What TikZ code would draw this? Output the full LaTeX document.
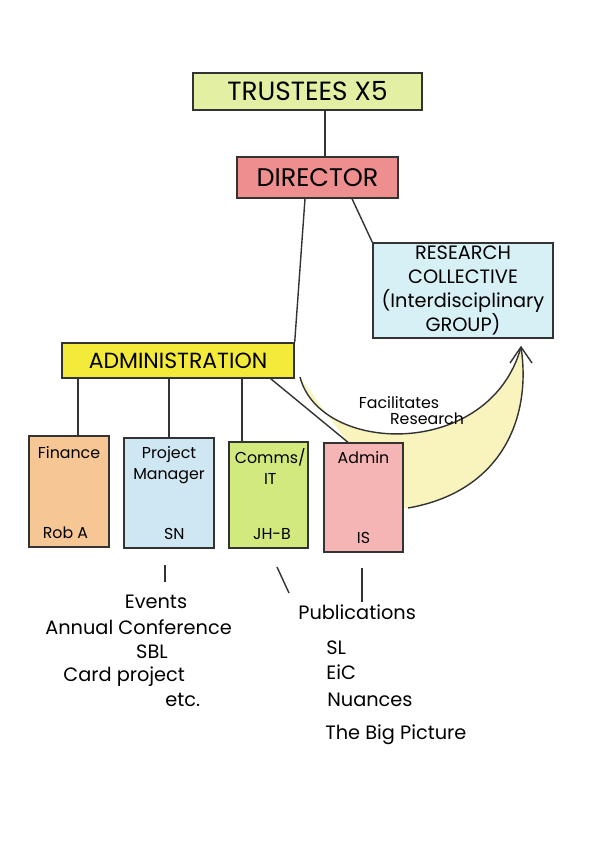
\documentclass[tikz,border=0pt]{standalone}
\usepackage{fontspec}
\setmainfont{Poppins}
\usetikzlibrary{math}

\definecolor{trustcol}{HTML}{E3F0A4}
\definecolor{dircol}{HTML}{EF8E8E}
\definecolor{rescol}{HTML}{D6F0F5}
\definecolor{admcol}{HTML}{F4EA3A}
\definecolor{fincol}{HTML}{F6C795}
\definecolor{pmcol}{HTML}{CFE6F3}
\definecolor{commcol}{HTML}{D2E97E}
\definecolor{offcol}{HTML}{F6B5B5}
\definecolor{arrowcol}{HTML}{F9F3BE}

\begin{document}
\begin{tikzpicture}[x=0.02cm, y=-0.02cm,
	box/.style = {draw=black!80, line width=0.8pt, inner sep=0pt},
	role/.style = {box, minimum width=1.58cm},
	lbl/.style = {font=\fontsize{9}{12}\selectfont, align=center, inner sep=1pt},
	list/.style = {font=\fontsize{11}{13}\selectfont, inner sep=0pt},
	link/.style = {draw=black!80, line width=0.8pt}]

	\useasboundingbox (0,0) rectangle (600,847);

	\tikzmath{\ytop = 91.5;};
	\tikzmath{\ydir = 177.5;};
	\tikzmath{\yadm = 360.5;};

	% the big curved arrow goes first, under the boxes
	\coordinate (tip) at (521,347);
	\fill[arrowcol] (300,377) .. controls (320,455) and (490,460) .. (tip)
		.. controls (532,420) and (500,492) .. (408,508) -- (403,508) -- (403,443) -- (348,443) -- cycle;
	\draw[link] (300,377) .. controls (320,455) and (490,460) .. (tip);
	\draw[link] (tip) .. controls (532,420) and (500,492) .. (408,508);
	\draw[link] (510,363) -- (tip) -- (532,363);

	\node[box, fill=trustcol, minimum width=4.58cm, minimum height=0.74cm, font=\fontsize{15}{18}\selectfont] (tru) at (307.5,\ytop) {TRUSTEES X5};
	\node[box, fill=dircol, minimum width=3.22cm, minimum height=0.82cm, font=\fontsize{14.5}{17}\selectfont] (dir) at (317.5,\ydir) {DIRECTOR};
	\node[box, fill=rescol, minimum width=3.6cm, minimum height=1.9cm, align=center, font=\fontsize{11}{13.5}\selectfont] (res) at (463,290.5) {RESEARCH\\COLLECTIVE\\(Interdisciplinary\\GROUP)};
	\node[box, fill=admcol, minimum width=4.64cm, minimum height=0.7cm, font=\fontsize{12.5}{15}\selectfont] (adm) at (178,\yadm) {ADMINISTRATION};

	\node[role, fill=fincol, minimum width=1.6cm, minimum height=2.22cm] (fin) at (69,491.5) {};
	\node[role, fill=pmcol, minimum width=1.8cm, minimum height=2.2cm] (pm) at (169,493) {};
	\node[role, fill=commcol, minimum height=2.12cm] (comm) at (268.5,495) {};
	\node[role, fill=offcol, minimum height=2.18cm] (off) at (363.5,497.5) {};

	\node[lbl, anchor=north] (finT) at ([yshift=-5pt]fin.north) {Finance};
	\node[lbl, anchor=south] (finN) at ([xshift=-2pt, yshift=4pt]fin.south) {Rob A};
	\node[lbl, anchor=north] (pmT) at ([yshift=-4pt]pm.north) {Project\\Manager};
	\node[lbl, anchor=south] (pmN) at ([xshift=3pt, yshift=4pt]pm.south) {SN};
	\node[lbl, anchor=north] (commT) at ([xshift=1pt, yshift=-3pt]comm.north) {Comms/\\IT};
	\node[lbl, anchor=south] (commN) at ([xshift=2pt, yshift=4pt]comm.south) {JH-B};
	\node[lbl, anchor=north] (offT) at ([yshift=-4pt]off.north) {Admin};
	\node[lbl, anchor=south] (offN) at ([yshift=4pt]off.south) {IS};

	\node[lbl] (fac1) at (399,403) {Facilitates};
	\node[lbl] (fac2) at (427,419) {Research};

	% lines between the boxes
	\coordinate (t1) at ([xshift=0.35cm]tru.south);
	\draw[link] (t1) -- (t1 |- dir.north);
	\draw[link] ([xshift=-0.25cm]dir.south) -- (adm.north east);
	\draw[link] ([xshift=0.69cm]dir.south) -- (res.north west);

	\coordinate (a1) at ([xshift=0.18cm]fin.north);
	\draw[link] (a1) -- (a1 |- adm.south);
	\draw[link] (pm.north) -- (pm.north |- adm.south);
	\coordinate (a3) at ([xshift=-0.53cm]comm.north);
	\draw[link] (a3) -- (a3 |- adm.south);
	\draw[link] ([xshift=-0.48cm]adm.south east) -- ([xshift=-0.31cm]off.north);

	% what each one looks after
	\coordinate (e1) at (165,565);
	\coordinate (e2) at (165,582);
	\draw[link] (e1) -- (e2);
	\coordinate (p1) at (277,567);
	\coordinate (p2) at (289,593);
	\draw[link] (p1) -- (p2);
	\coordinate (p3) at (362,568);
	\coordinate (p4) at (362,602);
	\draw[link] (p3) -- (p4);

	\node[list] (ev1) at (156,602) {Events};
	\node[list, anchor=west] (ev2) at (45,627) {Annual Conference};
	\node[list] (ev3) at (152,652) {SBL};
	\node[list, anchor=west] (ev4) at (63,677) {Card project};
	\node[list, anchor=west] (ev5) at (165,700) {etc.};

	\node[list, anchor=west] (pub1) at (298,612) {Publications};
	\node[list, anchor=west] (pub2) at (326,648) {SL};
	\node[list, anchor=west] (pub3) at (326,672) {EiC};
	\node[list, anchor=west] (pub4) at (327,700) {Nuances};
	\node[list, anchor=west] (pub5) at (325,735) {The Big Picture};

\end{tikzpicture}
\end{document}
